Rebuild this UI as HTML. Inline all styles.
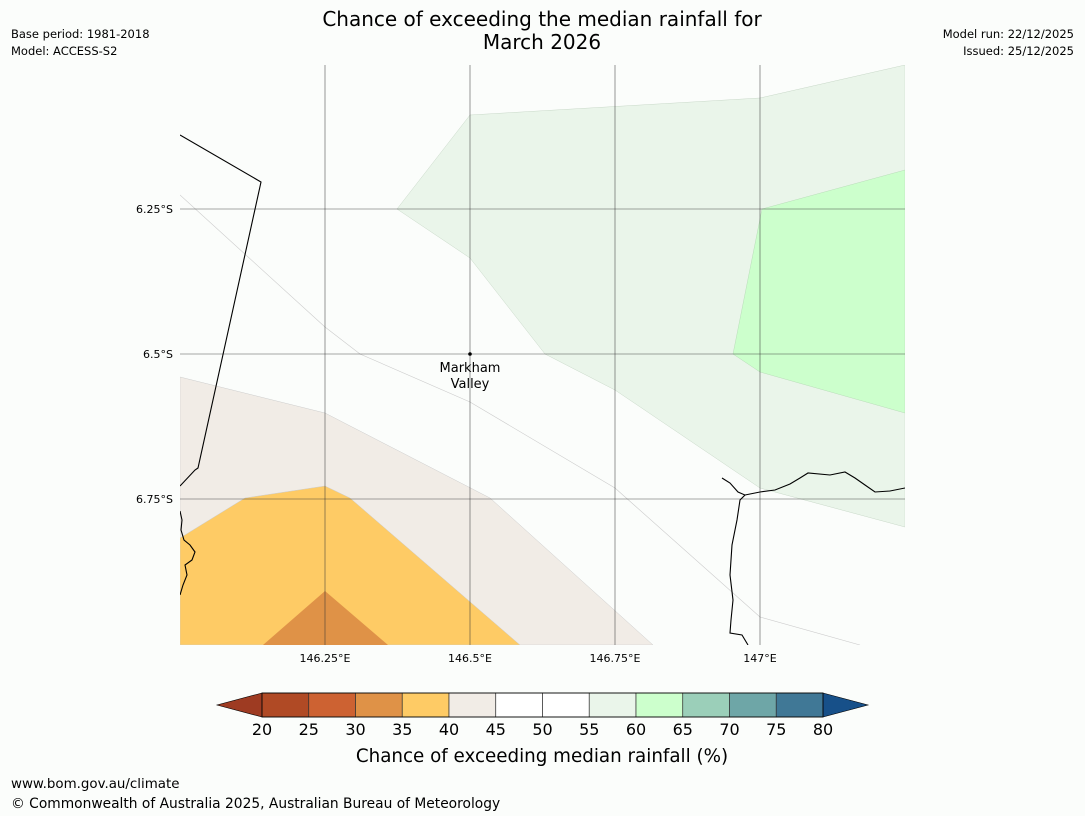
<!DOCTYPE html>
<html><head><meta charset="utf-8"><style>
html,body{margin:0;padding:0;background:#fbfdfb;}
svg{display:block;font-family:"DejaVu Sans","Liberation Sans",sans-serif;}
</style></head><body>
<svg id="chart" width="1085" height="816" viewBox="0 0 1085 816">
<rect width="1085" height="816" fill="#fbfdfb"/>
<text x="542" y="26" font-size="20" text-anchor="middle" fill="#000">Chance of exceeding the median rainfall for</text>
<text x="542" y="49" font-size="20" text-anchor="middle" fill="#000">March 2026</text>
<text x="11" y="38" font-size="11.5">Base period: 1981-2018</text>
<text x="11" y="55" font-size="11.5">Model: ACCESS-S2</text>
<text x="1074" y="38" font-size="11.5" text-anchor="end">Model run: 22/12/2025</text>
<text x="1074" y="55" font-size="11.5" text-anchor="end">Issued: 25/12/2025</text>

<g>
<clipPath id="mc"><rect x="180" y="65" width="725" height="580"/></clipPath>
<g clip-path="url(#mc)">
<polygon points="397,209 470,115 760,98 905,65 905,527 760,488 615,390 545,354 470,258" fill="#eaf5ea" stroke="#c8d8c8" stroke-width="0.5"/>
<polygon points="762,209 905,170 905,413 760,372 733,354" fill="#ccffcc" stroke="#b8dcb8" stroke-width="0.5"/>
<polygon points="180,377 325,413 490,498 653,645 180,645" fill="#f1ece6" stroke="#ccc" stroke-width="0.5"/>
<polygon points="180,538 245,498 325,486 350,498 520,645 180,645" fill="#fecb65" stroke="#ccc" stroke-width="0.5"/>
<polygon points="263,645 325,591 388,645" fill="#df9247"/>
<polyline points="180,195 325,327 360,354 470,402 615,488 760,617 860,645" fill="none" stroke="#ccc" stroke-width="0.6"/>
<g stroke="#333" stroke-width="0.6" stroke-opacity="0.85">
<line x1="325" y1="65" x2="325" y2="645"/><line x1="470" y1="65" x2="470" y2="645"/>
<line x1="615" y1="65" x2="615" y2="645"/><line x1="760" y1="65" x2="760" y2="645"/>
<line x1="180" y1="209" x2="905" y2="209"/><line x1="180" y1="354" x2="905" y2="354"/><line x1="180" y1="499" x2="905" y2="499"/>
</g>
<polyline points="180,135 261,182 198,468 195,470 180,486" fill="none" stroke="#000" stroke-width="1.1"/>
<polyline points="180,511 182,520 181,530 184,540 190,545 195,552 192,560 185,565 187,575 183,585 180,595" fill="none" stroke="#000" stroke-width="1.1"/>
<polyline points="722,478 730,483 738,492 745,495 740,500 737,520 732,545 730,575 733,600 731,620 730,633 742,635 748,645" fill="none" stroke="#000" stroke-width="1.1"/>
<polyline points="745,495 760,492 775,490 790,484 800,478 808,473 830,475 845,472 855,478 865,485 875,492 890,491 905,488" fill="none" stroke="#000" stroke-width="1.1"/>
</g>
<circle cx="470" cy="354" r="1.8" fill="#000"/>
<text x="470" y="372" font-size="13" text-anchor="middle">Markham</text>
<text x="470" y="388" font-size="13" text-anchor="middle">Valley</text>
<g font-size="11">
<text x="173" y="213" text-anchor="end">6.25°S</text>
<text x="173" y="358" text-anchor="end">6.5°S</text>
<text x="173" y="503" text-anchor="end">6.75°S</text>
</g>
<g font-size="11" text-anchor="middle">
<text x="325" y="662">146.25°E</text><text x="470" y="662">146.5°E</text>
<text x="615" y="662">146.75°E</text><text x="760" y="662">147°E</text>
</g>
</g>
<g id="cbar"></g>
<text x="542" y="762" font-size="18.3" text-anchor="middle">Chance of exceeding median rainfall (%)</text>
<text x="11" y="788" font-size="13.4">www.bom.gov.au/climate</text>
<text x="11" y="808" font-size="13.8">© Commonwealth of Australia 2025, Australian Bureau of Meteorology</text>
</svg>
<script>
const levels = [20,25,30,35,40,45,50,55,60,65,70,75,80];
const binColors = ["#b04a25","#cd6232","#df9247","#fecb65","#f1ece6","#ffffff","#ffffff","#eaf5ea","#ccffcc","#9bcfb9","#6ea6a7","#407896"];
const underColor = "#9e3b22", overColor = "#175089";
const NS = "http://www.w3.org/2000/svg";
const g = document.getElementById('cbar');
const x0 = 262, x1 = 823, y0 = 693, y1 = 717;
const xs = v => x0 + (v - levels[0]) / (levels[levels.length-1] - levels[0]) * (x1 - x0);
function mk(t, a){ const e = document.createElementNS(NS, t); for (const k in a) e.setAttribute(k, a[k]); g.appendChild(e); return e; }
let p = mk('polygon', {points:`${x0},${y0} ${x0-45},${(y0+y1)/2} ${x0},${y1}`, fill:underColor, stroke:'#000', 'stroke-width':0.6});


p = mk('polygon', {points:`${x1},${y0} ${x1+45},${(y0+y1)/2} ${x1},${y1}`, fill:overColor, stroke:'#000', 'stroke-width':0.6});


for (let i = 0; i < binColors.length; i++) {
  const r = mk('rect', {x:xs(levels[i]), y:y0, width:xs(levels[i+1])-xs(levels[i]), height:y1-y0, fill:binColors[i], stroke:'#333', 'stroke-width':0.7});
  
  
}
mk('rect', {x:x0, y:y0, width:x1-x0, height:y1-y0, fill:'none', stroke:'#000', 'stroke-width':0.8});
levels.forEach(v => {
  const t = mk('text', {x:xs(v), y:735, 'font-size':16, 'text-anchor':'middle'});
  t.textContent = v;
  
  
});
</script>
</body></html>
